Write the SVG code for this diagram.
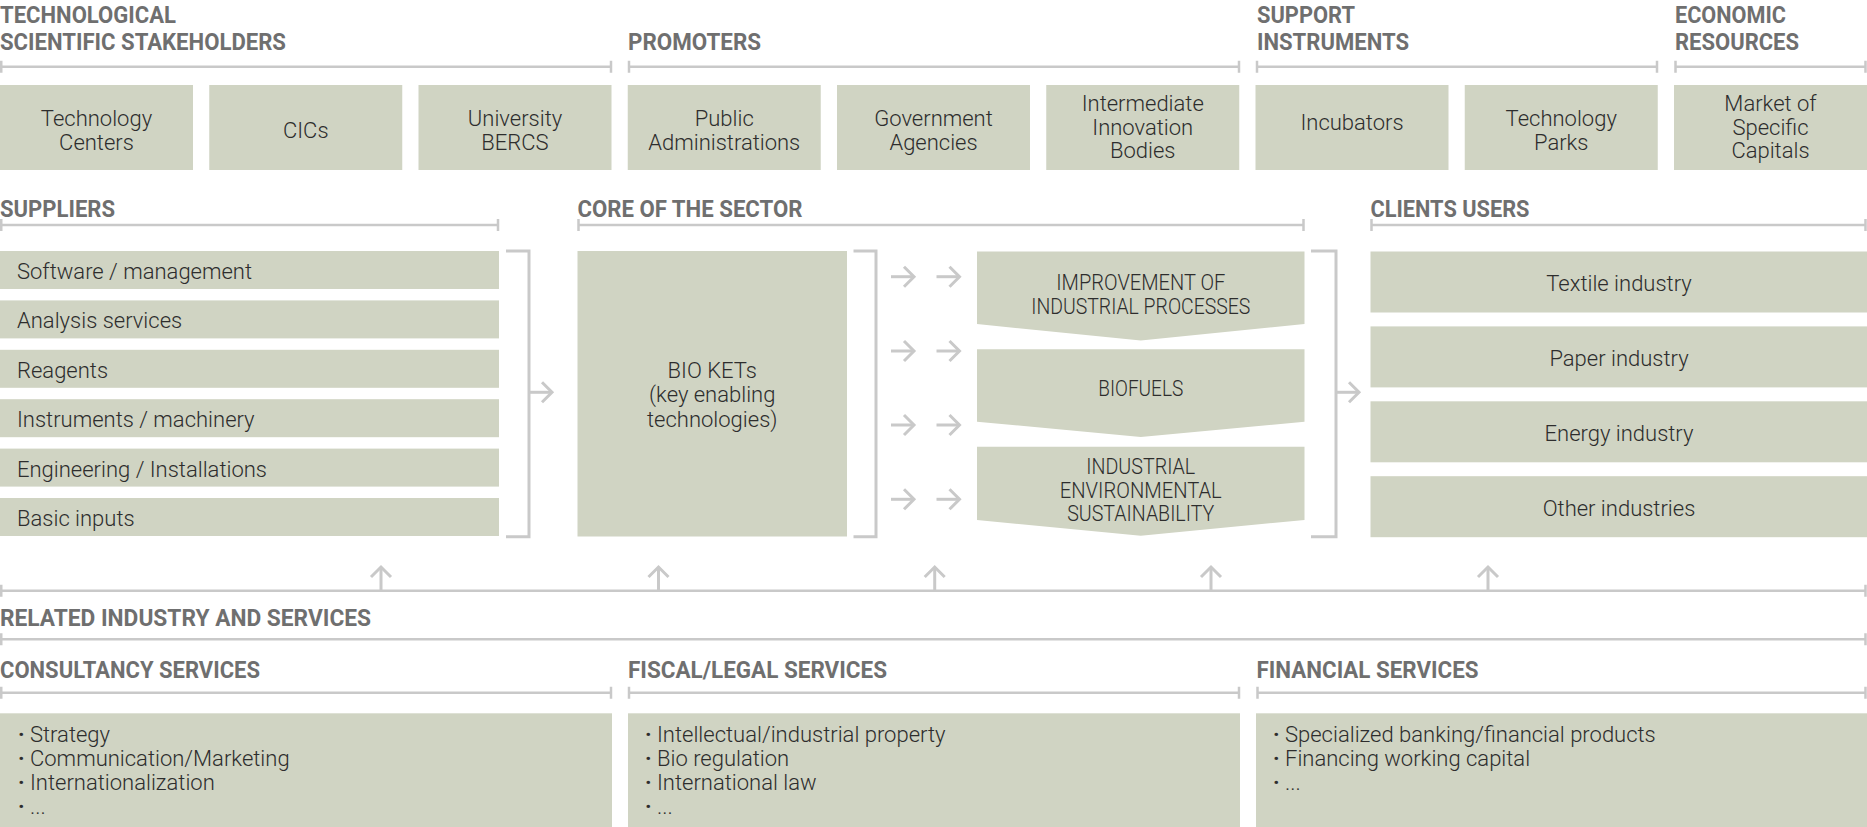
<svg xmlns="http://www.w3.org/2000/svg" width="1867" height="827" viewBox="0 0 1867 827">
<style>
.box{fill:#d0d4c3}
.hd{font-family:Roboto,"Liberation Sans",sans-serif;font-weight:700;font-size:24px;fill:#6f6f6f}
.tx{font-family:Roboto,"Liberation Sans",sans-serif;font-weight:300;font-size:22px;fill:#2d2d2d}
.b{font-weight:700}
.c{text-anchor:middle}
.rule{stroke:#c9c9c9;stroke-width:2.5;fill:none}
.arr{stroke:#c9c9c9;stroke-width:3;fill:none;stroke-linecap:butt}
</style>
<defs>
<path id="ah" d="M-10,-10 L0,0 L-10,10"/>
</defs>

<!-- Section headers -->
<g id="hdr-tech">
<text class="hd" x="0" y="23" textLength="176" lengthAdjust="spacingAndGlyphs">TECHNOLOGICAL</text>
<text class="hd" x="0" y="50" textLength="286" lengthAdjust="spacingAndGlyphs">SCIENTIFIC STAKEHOLDERS</text>
<path class="rule" d="M1.25,66.7 H611 M1.25,60.7 v12 M611,60.7 v12"/>
</g>
<g id="hdr-promoters">
<text class="hd" x="628" y="50" textLength="133" lengthAdjust="spacingAndGlyphs">PROMOTERS</text>
<path class="rule" d="M629,66.7 H1239 M629,60.7 v12 M1239,60.7 v12"/>
</g>
<g id="hdr-support">
<text class="hd" x="1257" y="23" textLength="98" lengthAdjust="spacingAndGlyphs">SUPPORT</text>
<text class="hd" x="1257" y="50" textLength="152" lengthAdjust="spacingAndGlyphs">INSTRUMENTS</text>
<path class="rule" d="M1257,66.7 H1657 M1257,60.7 v12 M1657,60.7 v12"/>
</g>
<g id="hdr-economic">
<text class="hd" x="1675" y="23" textLength="111" lengthAdjust="spacingAndGlyphs">ECONOMIC</text>
<text class="hd" x="1675" y="50" textLength="124" lengthAdjust="spacingAndGlyphs">RESOURCES</text>
<path class="rule" d="M1675.5,66.7 H1865.5 M1675.5,60.7 v12 M1865.5,60.7 v12"/>
</g>

<!-- Top boxes -->
<g id="n-technology-centers"><rect class="box" x="0" y="85" width="193" height="85"/>
<text class="tx c" x="96.5" y="125.5">Technology</text><text class="tx c" x="96.5" y="149.5">Centers</text></g>
<g id="n-cics"><rect class="box" x="209.25" y="85" width="193" height="85"/>
<text class="tx c" x="305.75" y="137.5">CICs</text></g>
<g id="n-university"><rect class="box" x="418.5" y="85" width="193" height="85"/>
<text class="tx c" x="515" y="125.5">University</text><text class="tx c" x="515" y="149.5">BERCS</text></g>
<g id="n-public-admin"><rect class="box" x="627.75" y="85" width="193" height="85"/>
<text class="tx c" x="724.25" y="125.5">Public</text><text class="tx c" x="724.25" y="149.5">Administrations</text></g>
<g id="n-gov-agencies"><rect class="box" x="837" y="85" width="193" height="85"/>
<text class="tx c" x="933.5" y="125.5">Government</text><text class="tx c" x="933.5" y="149.5">Agencies</text></g>
<g id="n-intermediate"><rect class="box" x="1046.25" y="85" width="193" height="85"/>
<text class="tx c" x="1142.75" y="111">Intermediate</text><text class="tx c" x="1142.75" y="134.5">Innovation</text><text class="tx c" x="1142.75" y="158">Bodies</text></g>
<g id="n-incubators"><rect class="box" x="1255.5" y="85" width="193" height="85"/>
<text class="tx c" x="1352" y="129.5">Incubators</text></g>
<g id="n-tech-parks"><rect class="box" x="1464.75" y="85" width="193" height="85"/>
<text class="tx c" x="1561.25" y="125.5">Technology</text><text class="tx c" x="1561.25" y="149.5">Parks</text></g>
<g id="n-market-capitals"><rect class="box" x="1674" y="85" width="193" height="85"/>
<text class="tx c" x="1770.5" y="111">Market of</text><text class="tx c" x="1770.5" y="134.5">Specific</text><text class="tx c" x="1770.5" y="158">Capitals</text></g>

<!-- Middle headers -->
<g id="hdr-suppliers">
<text class="hd" x="0" y="216.5" textLength="115" lengthAdjust="spacingAndGlyphs">SUPPLIERS</text>
<path class="rule" d="M1.25,225 H498 M1.25,219 v12 M498,219 v12"/>
</g>
<g id="hdr-core">
<text class="hd" x="577.5" y="216.5" textLength="225" lengthAdjust="spacingAndGlyphs">CORE OF THE SECTOR</text>
<path class="rule" d="M578.5,225 H1303.5 M578.5,219 v12 M1303.5,219 v12"/>
</g>
<g id="hdr-clients">
<text class="hd" x="1370.5" y="216.5" textLength="159" lengthAdjust="spacingAndGlyphs">CLIENTS USERS</text>
<path class="rule" d="M1371.5,225 H1865.5 M1371.5,219 v12 M1865.5,219 v12"/>
</g>

<!-- Suppliers -->
<g id="n-software"><rect class="box" x="0" y="251" width="499" height="38"/><text class="tx" x="17" y="279">Software / management</text></g>
<g id="n-analysis"><rect class="box" x="0" y="300.4" width="499" height="38"/><text class="tx" x="17" y="328.4">Analysis services</text></g>
<g id="n-reagents"><rect class="box" x="0" y="349.8" width="499" height="38"/><text class="tx" x="17" y="377.8">Reagents</text></g>
<g id="n-instruments"><rect class="box" x="0" y="399.2" width="499" height="38"/><text class="tx" x="17" y="427.2">Instruments / machinery</text></g>
<g id="n-engineering"><rect class="box" x="0" y="448.6" width="499" height="38"/><text class="tx" x="17" y="476.6">Engineering / Installations</text></g>
<g id="n-basic-inputs"><rect class="box" x="0" y="498" width="499" height="38"/><text class="tx" x="17" y="526">Basic inputs</text></g>

<!-- Core -->
<g id="n-bio-kets"><rect class="box" x="577.5" y="251" width="269.5" height="285.5"/>
<text class="tx c" x="712.25" y="377.5">BIO KETs</text><text class="tx c" x="712.25" y="402">(key enabling</text><text class="tx c" x="712.25" y="426.5">technologies)</text></g>
<g id="n-improvement"><polygon class="box" points="977,251.5 1304.5,251.5 1304.5,324 1140.75,340.5 977,324"/>
<text class="tx c" x="1140.75" y="290" textLength="169" lengthAdjust="spacingAndGlyphs">IMPROVEMENT OF</text>
<text class="tx c" x="1140.75" y="314" textLength="219" lengthAdjust="spacingAndGlyphs">INDUSTRIAL PROCESSES</text></g>
<g id="n-biofuels"><polygon class="box" points="977,349.3 1304.5,349.3 1304.5,421.7 1140.75,437 977,421.7"/>
<text class="tx c" x="1140.75" y="396" textLength="85" lengthAdjust="spacingAndGlyphs">BIOFUELS</text></g>
<g id="n-sustainability"><polygon class="box" points="977,446.7 1304.5,446.7 1304.5,520 1140.75,535.7 977,520"/>
<text class="tx c" x="1140.75" y="474" textLength="109" lengthAdjust="spacingAndGlyphs">INDUSTRIAL</text>
<text class="tx c" x="1140.75" y="497.5" textLength="162" lengthAdjust="spacingAndGlyphs">ENVIRONMENTAL</text>
<text class="tx c" x="1140.75" y="521" textLength="147" lengthAdjust="spacingAndGlyphs">SUSTAINABILITY</text></g>

<!-- Clients -->
<g id="n-textile"><rect class="box" x="1370.5" y="251.5" width="496.5" height="61"/><text class="tx c" x="1619" y="291">Textile industry</text></g>
<g id="n-paper"><rect class="box" x="1370.5" y="326.4" width="496.5" height="61"/><text class="tx c" x="1619" y="365.9">Paper industry</text></g>
<g id="n-energy"><rect class="box" x="1370.5" y="401.3" width="496.5" height="61"/><text class="tx c" x="1619" y="440.8">Energy industry</text></g>
<g id="n-other"><rect class="box" x="1370.5" y="476.2" width="496.5" height="61"/><text class="tx c" x="1619" y="515.7">Other industries</text></g>

<!-- Connectors -->
<g id="connectors" class="arr">
<path d="M506,251 H529 V536.7 H506"/>
<path d="M529,392.3 H552"/><use href="#ah" transform="translate(552,392.3)"/>
<path d="M853.5,251 H876 V536.7 H853.5"/>
<path d="M891,276.7 H914"/><use href="#ah" transform="translate(914,276.7)"/>
<path d="M936.5,276.7 H959.5"/><use href="#ah" transform="translate(959.5,276.7)"/>
<path d="M891,351 H914"/><use href="#ah" transform="translate(914,351)"/>
<path d="M936.5,351 H959.5"/><use href="#ah" transform="translate(959.5,351)"/>
<path d="M891,425 H914"/><use href="#ah" transform="translate(914,425)"/>
<path d="M936.5,425 H959.5"/><use href="#ah" transform="translate(959.5,425)"/>
<path d="M891,499.3 H914"/><use href="#ah" transform="translate(914,499.3)"/>
<path d="M936.5,499.3 H959.5"/><use href="#ah" transform="translate(959.5,499.3)"/>
<path d="M1311,251 H1336 V536.7 H1311"/>
<path d="M1336,392.3 H1359"/><use href="#ah" transform="translate(1359,392.3)"/>
<path d="M381,590 V567"/><use href="#ah" transform="translate(381,567) rotate(-90)"/>
<path d="M658.5,590 V567"/><use href="#ah" transform="translate(658.5,567) rotate(-90)"/>
<path d="M934.7,590 V567"/><use href="#ah" transform="translate(934.7,567) rotate(-90)"/>
<path d="M1211,590 V567"/><use href="#ah" transform="translate(1211,567) rotate(-90)"/>
<path d="M1488,590 V567"/><use href="#ah" transform="translate(1488,567) rotate(-90)"/>
</g>

<!-- Related industry -->
<g id="hdr-related">
<path class="rule" d="M1.25,590.7 H1865.5 M1.25,584.7 v12 M1865.5,584.7 v12"/>
<text class="hd" x="0" y="626" textLength="371" lengthAdjust="spacingAndGlyphs">RELATED INDUSTRY AND SERVICES</text>
<path class="rule" d="M1.25,639.3 H1865.5 M1.25,633.3 v12 M1865.5,633.3 v12"/>
</g>
<g id="hdr-consultancy">
<text class="hd" x="0" y="678" textLength="260" lengthAdjust="spacingAndGlyphs">CONSULTANCY SERVICES</text>
<path class="rule" d="M1.25,692.7 H611 M1.25,686.7 v12 M611,686.7 v12"/>
</g>
<g id="hdr-fiscal">
<text class="hd" x="628" y="678" textLength="259" lengthAdjust="spacingAndGlyphs">FISCAL/LEGAL SERVICES</text>
<path class="rule" d="M629,692.7 H1239 M629,686.7 v12 M1239,686.7 v12"/>
</g>
<g id="hdr-financial">
<text class="hd" x="1256.5" y="678" textLength="222" lengthAdjust="spacingAndGlyphs">FINANCIAL SERVICES</text>
<path class="rule" d="M1257.5,692.7 H1865.5 M1257.5,686.7 v12 M1865.5,686.7 v12"/>
</g>

<g id="n-consultancy"><rect class="box" x="0" y="713.3" width="612" height="114"/>
<text class="tx" x="18" y="741.5"><tspan class="b">·</tspan> Strategy</text>
<text class="tx" x="18" y="765.5"><tspan class="b">·</tspan> Communication/Marketing</text>
<text class="tx" x="18" y="789.5"><tspan class="b">·</tspan> Internationalization</text>
<text class="tx" x="18" y="813.5"><tspan class="b">·</tspan> ...</text></g>
<g id="n-fiscal"><rect class="box" x="628" y="713.3" width="612" height="114"/>
<text class="tx" x="645" y="741.5"><tspan class="b">·</tspan> Intellectual/industrial property</text>
<text class="tx" x="645" y="765.5"><tspan class="b">·</tspan> Bio regulation</text>
<text class="tx" x="645" y="789.5"><tspan class="b">·</tspan> International law</text>
<text class="tx" x="645" y="813.5"><tspan class="b">·</tspan> ...</text></g>
<g id="n-financial"><rect class="box" x="1256" y="713.3" width="611" height="114"/>
<text class="tx" x="1273" y="741.5"><tspan class="b">·</tspan> Specialized banking/financial products</text>
<text class="tx" x="1273" y="765.5"><tspan class="b">·</tspan> Financing working capital</text>
<text class="tx" x="1273" y="789.5"><tspan class="b">·</tspan> ...</text></g>
</svg>
